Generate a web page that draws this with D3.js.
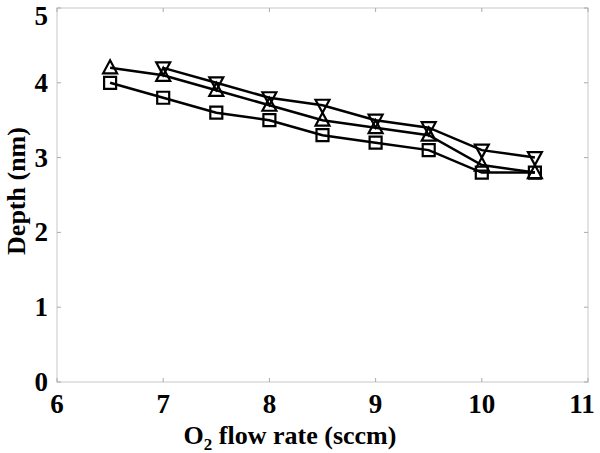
<!DOCTYPE html>
<html>
<head>
<meta charset="utf-8">
<script src="https://cdn.jsdelivr.net/npm/d3@7"></script>
<style>
body { margin: 0; background: #fff; }
text { font-family: "Liberation Serif", "Times New Roman", serif; font-weight: bold; }
</style>
</head>
<body>
<div id="chart"></div>
<script>
var xTicks = [6, 7, 8, 9, 10, 11];
var yTicks = [0, 1, 2, 3, 4, 5];
var flowSquare = [6.5, 7, 7.5, 8, 8.5, 9, 9.5, 10, 10.5];
var depthSquare = [4.0, 3.8, 3.6, 3.5, 3.3, 3.2, 3.1, 2.8, 2.8];
var flowUp = [6.5, 7, 7.5, 8, 8.5, 9, 9.5, 10, 10.5];
var depthUp = [4.2, 4.1, 3.9, 3.7, 3.5, 3.4, 3.3, 2.9, 2.8];
var flowDown = [7, 7.5, 8, 8.5, 9, 9.5, 10, 10.5];
var depthDown = [4.2, 4.0, 3.8, 3.7, 3.5, 3.4, 3.1, 3.0];

var width = 600, height = 453;
var margins = {left: 57, right: 12, top: 8, bottom: 71};

var svg = d3.select("#chart").append("svg")
	.attr("width", width)
	.attr("height", height);

var x = d3.scaleLinear().domain([6, 11]).range([margins.left, width - margins.right]);
var y = d3.scaleLinear().domain([0, 5]).range([height - margins.bottom, margins.top]);

// frame
svg.append("rect")
	.attr("x", x(6)).attr("y", y(5))
	.attr("width", x(11) - x(6)).attr("height", y(0) - y(5))
	.style("fill", "none").style("stroke", "#c8c8c8").style("stroke-width", 1);

// ticks (inward, both sides)
xTicks.forEach(function(t) {
	svg.append("line").attr("x1", x(t)).attr("x2", x(t)).attr("y1", y(0)).attr("y2", y(0) - 4)
		.style("stroke", "#aaa");
	svg.append("line").attr("x1", x(t)).attr("x2", x(t)).attr("y1", y(5)).attr("y2", y(5) + 4)
		.style("stroke", "#aaa");
	svg.append("text")
		.attr("x", x(t) - (t == 11 ? 6 : 0)).attr("y", y(0) + 31)
		.attr("text-anchor", "middle")
		.style("font-size", "27px")
		.text(t);
});
yTicks.forEach(function(t) {
	svg.append("line").attr("x1", x(6)).attr("x2", x(6) + 4).attr("y1", y(t)).attr("y2", y(t))
		.style("stroke", "#aaa");
	svg.append("line").attr("x1", x(11)).attr("x2", x(11) - 4).attr("y1", y(t)).attr("y2", y(t))
		.style("stroke", "#aaa");
	svg.append("text")
		.attr("x", 48).attr("y", y(t) + (t == 5 ? 17 : 9))
		.attr("text-anchor", "end")
		.style("font-size", "27px")
		.text(t);
});

// axis titles
var xt = svg.append("text")
	.attr("x", 290).attr("y", 444)
	.attr("text-anchor", "middle")
	.style("font-size", "26px");
xt.append("tspan").text("O");
xt.append("tspan").attr("dy", 6).style("font-size", "17px").text("2");
xt.append("tspan").attr("dy", -6).text(" flow rate (sccm)");

svg.append("text")
	.attr("transform", "translate(25," + 191 + ") rotate(-90)")
	.attr("text-anchor", "middle")
	.style("font-size", "26px")
	.text("Depth (nm)");

var line = d3.line().x(function(d) { return x(d[0]); }).y(function(d) { return y(d[1]); });

function drawSeries(xs, ys, shape) {
	var pts = d3.zip(xs, ys);
	svg.append("path")
		.attr("d", line(pts))
		.style("fill", "none").style("stroke", "black").style("stroke-width", 2.5);
	svg.selectAll(null).data(pts).enter().append("path")
		.attr("transform", function(d) { return "translate(" + x(d[0]) + "," + y(d[1]) + ")"; })
		.attr("d", shape)
		.style("fill", "none").style("stroke", "black").style("stroke-width", 2.2);
}

var square = "M-6,-6H6V6H-6Z";
var triUp = "M0,-7.5L7,5.5H-7Z";
var triDown = "M0,7.5L7,-5.5H-7Z";

drawSeries(flowSquare, depthSquare, square);
drawSeries(flowUp, depthUp, triUp);
drawSeries(flowDown, depthDown, triDown);
</script>
</body>
</html>
